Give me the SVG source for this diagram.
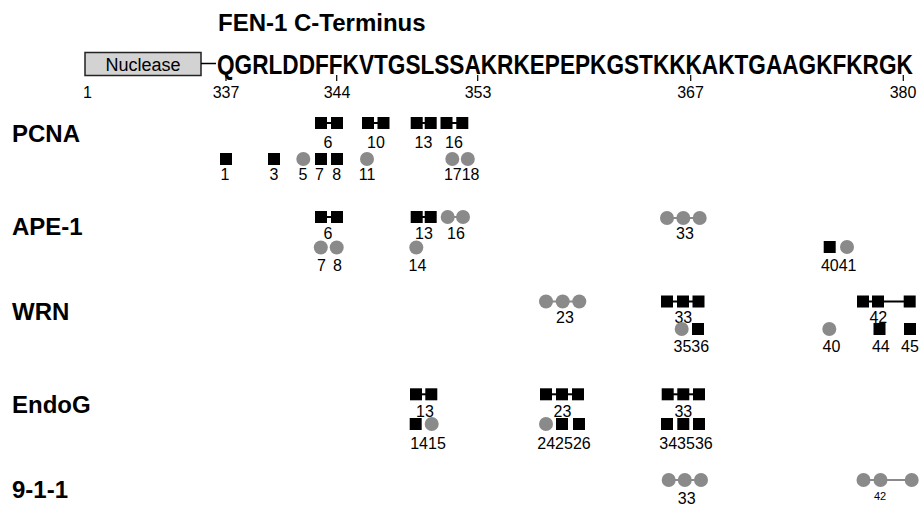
<svg xmlns="http://www.w3.org/2000/svg" width="921" height="506" viewBox="0 0 921 506">
<style>
text{font-family:"Liberation Sans",Arial,Helvetica,sans-serif;fill:#000}
.t{font-size:24px;font-weight:bold}
.seq{font-size:27px;font-weight:bold}
.n{font-size:16px;text-anchor:middle}
.ns{font-size:11px;text-anchor:middle}
.s{fill:#000}
.c{fill:#8a8a8a}
.lb{stroke:#000;stroke-width:2}
.lg{stroke:#8a8a8a;stroke-width:2}
.tick{stroke:#000;stroke-width:1.2}
</style>
<defs>
<rect id="sq" x="-6" y="-6" width="12" height="12" class="s"/>
<circle id="ci" r="7" class="c"/>
</defs>
<rect width="921" height="506" fill="#fff"/>

<text class="t" x="218" y="31">FEN-1 C-Terminus</text>

<g id="nuclease">
<rect x="85" y="52.5" width="116" height="23" fill="#d3d3d3" stroke="#222" stroke-width="1.5"/>
<text x="143" y="71" font-size="18" text-anchor="middle" fill="#222">Nuclease</text>
</g>

<g id="sequence">
<text class="seq" transform="translate(217,74) scale(0.838,1)" x="0" y="0">QGRLDDFFKVTGSLSSAKRKEPEPKGSTKKKAKTGAAGKFKRGK</text>
<line x1="201" y1="63.5" x2="216" y2="63.5" stroke="#000" stroke-width="1.5"/>
<line class="tick" x1="226" y1="75" x2="226" y2="81"/>
<line class="tick" x1="336.7" y1="75" x2="336.7" y2="81"/>
<line class="tick" x1="477.7" y1="75" x2="477.7" y2="81"/>
<line class="tick" x1="690.7" y1="75" x2="690.7" y2="81"/>
<line class="tick" x1="903.3" y1="75" x2="903.3" y2="81"/>
<text class="n" x="87.5" y="98">1</text>
<text class="n" x="226" y="98">337</text>
<text class="n" x="337" y="98">344</text>
<text class="n" x="478" y="98">353</text>
<text class="n" x="690.5" y="98">367</text>
<text class="n" x="903" y="98">380</text>
</g>

<g id="row-labels">
<text class="t" x="12" y="142">PCNA</text>
<text class="t" x="12" y="235">APE-1</text>
<text class="t" x="12" y="320">WRN</text>
<text class="t" x="12" y="413">EndoG</text>
<text class="t" x="12" y="498">9-1-1</text>
</g>

<g id="connectors">
<line class="lb" x1="321" y1="123" x2="337" y2="123"/>
<line class="lb" x1="368" y1="123" x2="383.5" y2="123"/>
<line class="lb" x1="416.7" y1="123" x2="430.7" y2="123"/>
<line class="lb" x1="446.5" y1="123" x2="462.3" y2="123"/>
<line class="lb" x1="321" y1="217" x2="337" y2="217"/>
<line class="lb" x1="416.7" y1="217" x2="430.7" y2="217"/>
<line class="lg" x1="447.7" y1="217" x2="463" y2="217"/>
<line class="lg" x1="667" y1="218" x2="699.7" y2="218"/>
<line class="lg" x1="546" y1="301.5" x2="579.3" y2="301.5"/>
<line class="lb" x1="667" y1="301.5" x2="698.5" y2="301.5"/>
<line class="lb" x1="863" y1="301.5" x2="909.7" y2="301.5"/>
<line class="lb" x1="416" y1="394.3" x2="431.3" y2="394.3"/>
<line class="lb" x1="546" y1="394.3" x2="578" y2="394.3"/>
<line class="lb" x1="667.7" y1="394.3" x2="699" y2="394.3"/>
<line class="lg" x1="668.7" y1="480" x2="701" y2="480"/>
<line class="lg" x1="863.5" y1="480" x2="911.7" y2="480"/>
</g>

<g id="pcna">
<g id="pcna-6"><use href="#sq" x="321" y="123"/><use href="#sq" x="337" y="123"/><text class="n" x="328" y="147.5">6</text></g>
<g id="pcna-10"><use href="#sq" x="368" y="123"/><use href="#sq" x="383.5" y="123"/><text class="n" x="376" y="147.5">10</text></g>
<g id="pcna-13"><use href="#sq" x="416.7" y="123"/><use href="#sq" x="430.7" y="123"/><text class="n" x="423.5" y="147.5">13</text></g>
<g id="pcna-16"><use href="#sq" x="446.5" y="123"/><use href="#sq" x="462.3" y="123"/><text class="n" x="454" y="147.5">16</text></g>
<g id="pcna-1"><use href="#sq" x="226" y="159"/><text class="n" x="225" y="179.5">1</text></g>
<g id="pcna-3"><use href="#sq" x="274" y="159"/><text class="n" x="274" y="179.5">3</text></g>
<g id="pcna-5"><use href="#ci" x="303.3" y="159"/><text class="n" x="303" y="179.5">5</text></g>
<g id="pcna-7"><use href="#sq" x="321" y="159"/><text class="n" x="319.5" y="179.5">7</text></g>
<g id="pcna-8"><use href="#sq" x="337" y="159"/><text class="n" x="336.7" y="179.5">8</text></g>
<g id="pcna-11"><use href="#ci" x="367" y="159"/><text class="n" x="367" y="179.5">11</text></g>
<g id="pcna-17-18"><use href="#ci" x="452.3" y="159"/><use href="#ci" x="467.8" y="159"/><text class="n" x="461.7" y="179.5">1718</text></g>
</g>

<g id="ape1">
<g id="ape1-6"><use href="#sq" x="321" y="217"/><use href="#sq" x="337" y="217"/><text class="n" x="328" y="239">6</text></g>
<g id="ape1-13"><use href="#sq" x="416.7" y="217"/><use href="#sq" x="430.7" y="217"/><text class="n" x="424" y="239">13</text></g>
<g id="ape1-16"><use href="#ci" x="447.7" y="217"/><use href="#ci" x="463" y="217"/><text class="n" x="456" y="239">16</text></g>
<g id="ape1-33"><use href="#ci" x="667" y="218"/><use href="#ci" x="683.3" y="218"/><use href="#ci" x="699.7" y="218"/><text class="n" x="685" y="239">33</text></g>
<g id="ape1-7"><use href="#ci" x="320.8" y="247.5"/><text class="n" x="321.5" y="271">7</text></g>
<g id="ape1-8"><use href="#ci" x="336.7" y="247.5"/><text class="n" x="337.5" y="271">8</text></g>
<g id="ape1-14"><use href="#ci" x="416.3" y="247.5"/><text class="n" x="417.5" y="271">14</text></g>
<g id="ape1-40-41"><use href="#sq" x="829.7" y="247"/><use href="#ci" x="847" y="247"/><text class="n" x="838.7" y="271">4041</text></g>
</g>

<g id="wrn">
<g id="wrn-23"><use href="#ci" x="546" y="301.5"/><use href="#ci" x="562.7" y="301.5"/><use href="#ci" x="579.3" y="301.5"/><text class="n" x="565" y="323">23</text></g>
<g id="wrn-33"><use href="#sq" x="667" y="301.5"/><use href="#sq" x="683" y="301.5"/><use href="#sq" x="698.5" y="301.5"/><text class="n" x="683.3" y="323">33</text></g>
<g id="wrn-42"><use href="#sq" x="863" y="301.5"/><use href="#sq" x="878" y="301.5"/><use href="#sq" x="909.7" y="301.5"/><text class="n" x="878.3" y="323">42</text></g>
<g id="wrn-35-36"><use href="#ci" x="681.7" y="329"/><use href="#sq" x="698" y="329"/><text class="n" x="691.3" y="352">3536</text></g>
<g id="wrn-40"><use href="#ci" x="829.3" y="329"/><text class="n" x="831.5" y="352">40</text></g>
<g id="wrn-44"><use href="#sq" x="879.5" y="329"/><text class="n" x="880.8" y="352">44</text></g>
<g id="wrn-45"><use href="#sq" x="910" y="329"/><text class="n" x="910" y="352">45</text></g>
</g>

<g id="endog">
<g id="endog-13"><use href="#sq" x="416" y="394.3"/><use href="#sq" x="431.3" y="394.3"/><text class="n" x="425" y="416.5">13</text></g>
<g id="endog-23"><use href="#sq" x="546" y="394.3"/><use href="#sq" x="562" y="394.3"/><use href="#sq" x="578" y="394.3"/><text class="n" x="562.5" y="416.5">23</text></g>
<g id="endog-33"><use href="#sq" x="667.7" y="394.3"/><use href="#sq" x="683.3" y="394.3"/><use href="#sq" x="699" y="394.3"/><text class="n" x="683.3" y="416.5">33</text></g>
<g id="endog-14-15"><use href="#sq" x="415.7" y="424"/><use href="#ci" x="431.7" y="424"/><text class="n" x="428" y="449">1415</text></g>
<g id="endog-24-26"><use href="#ci" x="546" y="424"/><use href="#sq" x="562" y="424"/><use href="#sq" x="579" y="424"/><text class="n" x="564" y="449">242526</text></g>
<g id="endog-34-36"><use href="#sq" x="667" y="424"/><use href="#sq" x="683.3" y="424"/><use href="#sq" x="699" y="424"/><text class="n" x="686" y="449">343536</text></g>
</g>

<g id="n911">
<g id="n911-33"><use href="#ci" x="668.7" y="480"/><use href="#ci" x="684.8" y="480"/><use href="#ci" x="701" y="480"/><text class="n" x="686.7" y="504">33</text></g>
<g id="n911-42"><use href="#ci" x="863.5" y="480"/><use href="#ci" x="880.5" y="480"/><use href="#ci" x="911.7" y="480"/><text class="ns" x="880" y="500">42</text></g>
</g>
</svg>
